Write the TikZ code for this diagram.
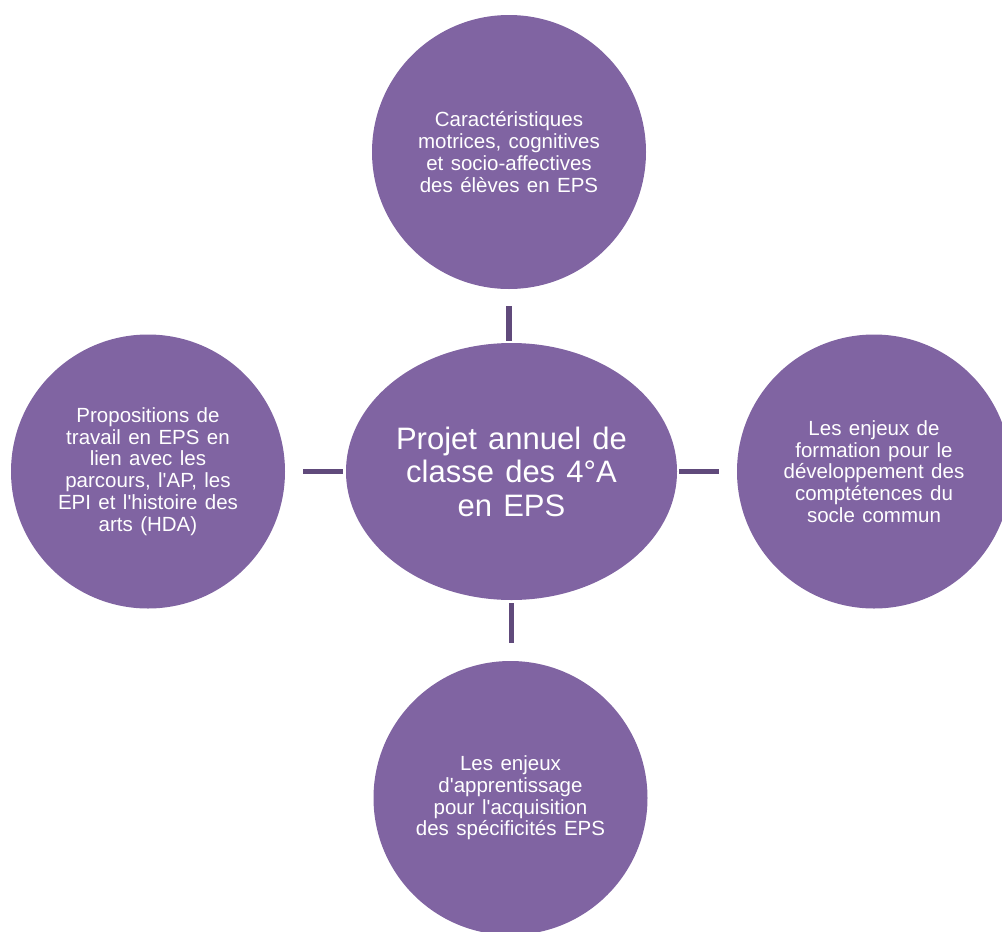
\documentclass[tikz,border=0pt]{standalone}
\usepackage{fontspec}
\newfontfamily\bubblesans{Liberation Sans}[WordSpace=1.45]
\newfontfamily\hubsans{Liberation Sans}[WordSpace=1.3]
\usetikzlibrary{shapes.geometric}
\definecolor{shapefill}{HTML}{8064A2}
\definecolor{linkcol}{HTML}{604A7B}
\begin{document}
\begin{tikzpicture}[x=1pt,y=-1pt,
  bubble/.style={circle,fill=shapefill,draw=none,minimum size=274pt,inner sep=0pt,
    text=white,align=center,font=\bubblesans\fontsize{20.5}{21.7}\selectfont},
  hub/.style={ellipse,fill=shapefill,draw=none,minimum width=331pt,minimum height=257pt,inner sep=0pt,
    text=white,align=center,font=\hubsans\fontsize{31}{33.5}\selectfont},
  linkline/.style={draw=linkcol,line width=5.3pt}]
\useasboundingbox (0,0) rectangle (1002,932);
\clip (0,0) rectangle (1002,932);
\node[hub] (hubn) at (511.5,471.5) {Projet annuel de\\classe des 4°A\\en EPS};
\node[bubble] (top) at (509,152) {Caractéristiques\\motrices, cognitives\\et socio-affectives\\des élèves en EPS};
\node[bubble] (left) at (148,471.5) {Propositions de\\travail en EPS en\\lien avec les\\parcours, l'AP, les\\EPI et l'histoire des\\arts (HDA)};
\node[bubble] (right) at (874,471.5) {Les enjeux de\\formation pour le\\développement des\\comptétences du\\socle commun};
\node[bubble] (bottom) at (510.5,798) {Les enjeux\\d'apprentissage\\pour l'acquisition\\des spécificités EPS};
\draw[linkline] ([yshift=-17pt]top.south) -- ([yshift=1.5pt]top.south |- hubn.north);
\draw[linkline] ([xshift=18pt]left.east |- hubn.west) -- ([xshift=-3pt]hubn.west);
\draw[linkline] ([xshift=2pt]hubn.east) -- ([xshift=-18pt]right.west |- hubn.east);
\draw[linkline] ([yshift=-3pt]hubn.south) -- ([yshift=18pt]bottom.north -| hubn.south);
\end{tikzpicture}
\end{document}
